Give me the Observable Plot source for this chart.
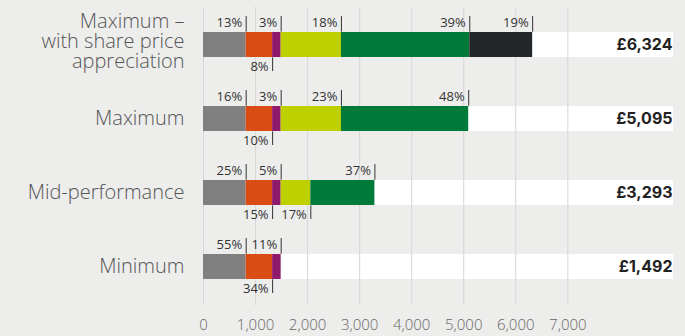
<!DOCTYPE html>
<html>
<head>
<meta charset="utf-8">
<script src="https://cdn.jsdelivr.net/npm/d3@7"></script>
<script src="https://cdn.jsdelivr.net/npm/@observablehq/plot@0.6"></script>
<style>
  html, body { margin: 0; padding: 0; background: #ededec; }
  #chart { width: 685px; height: 336px; }
</style>
</head>
<body>
<div id="chart"></div>
<script>
// ---- Data ----
const categories = ["Maximum –\nwith share price\nappreciation", "Maximum", "Mid-performance", "Minimum"];
const segments = ["Segment 1", "Segment 2", "Segment 3", "Segment 4", "Segment 5", "Segment 6"];
const colors = ["#808080", "#d94d15", "#8f1a6c", "#bed000", "#007a38", "#23272a"];

const values = [
  [820, 508, 164, 1158, 2466, 1208],
  [820, 508, 164, 1158, 2445],
  [820, 508, 164, 570, 1231],
  [820, 508, 164]
];
const pctLabels = [
  ["13%", "8%", "3%", "18%", "39%", "19%"],
  ["16%", "10%", "3%", "23%", "48%"],
  ["25%", "15%", "5%", "17%", "37%"],
  ["55%", "34%", "11%"]
];
const labelSide = [
  ["above", "below", "above", "above", "above", "above"],
  ["above", "below", "above", "above", "above"],
  ["above", "below", "above", "below", "above"],
  ["above", "below", "above"]
];
const totals = ["£6,324", "£5,095", "£3,293", "£1,492"];
const xTicks = [0, 1000, 2000, 3000, 4000, 5000, 6000, 7000];
const xMax = 9030;

// ---- Build table ----
const table = [];
categories.forEach((cat, r) => {
  let acc = 0;
  values[r].forEach((v, i) => {
    table.push({cat, seg: segments[i], start: acc, end: acc + v, pct: pctLabels[r][i], side: labelSide[r][i]});
    acc += v;
  });
});
const above = table.filter(d => d.side === "above");
const below = table.filter(d => d.side === "below");
const rows = categories.map((c, i) => ({cat: c, total: totals[i]}));

const chart = Plot.plot({
  width: 685,
  height: 336,
  marginLeft: 203,
  marginRight: 12,
  marginTop: 7,
  marginBottom: 31,
  style: {background: "#ededec", fontFamily: "'Open Sans', sans-serif", color: "#666"},
  x: {domain: [0, xMax]},
  y: {domain: categories, axis: null, paddingInner: 0.66, paddingOuter: 0.33},
  color: {domain: segments, range: colors},
  marks: [
    Plot.barX(rows, {x1: 0, x2: xMax, y: "cat", fill: "#ffffff"}),
    Plot.gridX(xTicks, {stroke: "#d6d6d6", strokeOpacity: 1}),
    Plot.barX(table, {x1: "start", x2: "end", y: "cat", fill: "seg"}),
    Plot.tickX(above, {x: "end", y: "cat", dy: -16, insetBottom: 9.3, stroke: "#333", strokeWidth: 1}),
    Plot.tickX(below, {x: "end", y: "cat", dy: 14, insetTop: 11.3, stroke: "#333", strokeWidth: 1}),
    Plot.text(above, {x: "end", y: "cat", text: "pct", textAnchor: "end", dx: -4, dy: -22, fontSize: 13, fill: "#333"}),
    Plot.text(below, {x: "end", y: "cat", text: "pct", textAnchor: "end", dx: -4, dy: 22, fontSize: 13, fill: "#333"}),
    Plot.text(rows.slice(0, 1), {x: 0, y: "cat", text: "cat", textAnchor: "end", dx: -19, dy: -3, fontSize: 20, fontWeight: 300, fill: "#555", lineHeight: 1.0}),
    Plot.text(rows.slice(1), {x: 0, y: "cat", text: "cat", textAnchor: "end", dx: -19, fontSize: 20, fontWeight: 300, fill: "#555"}),
    Plot.text(rows, {x: xMax, y: "cat", text: "total", textAnchor: "end", dx: -1, fontSize: 16, fontWeight: 700, fontFamily: "Inter, sans-serif", fill: "#222"}),
    Plot.axisX({ticks: xTicks, tickFormat: d3.format(","), tickSize: 0, tickPadding: 14, fontSize: 15, fontWeight: 300, label: null, fill: "#666"})
  ]
});
document.getElementById("chart").append(chart);
</script>
</body>
</html>
